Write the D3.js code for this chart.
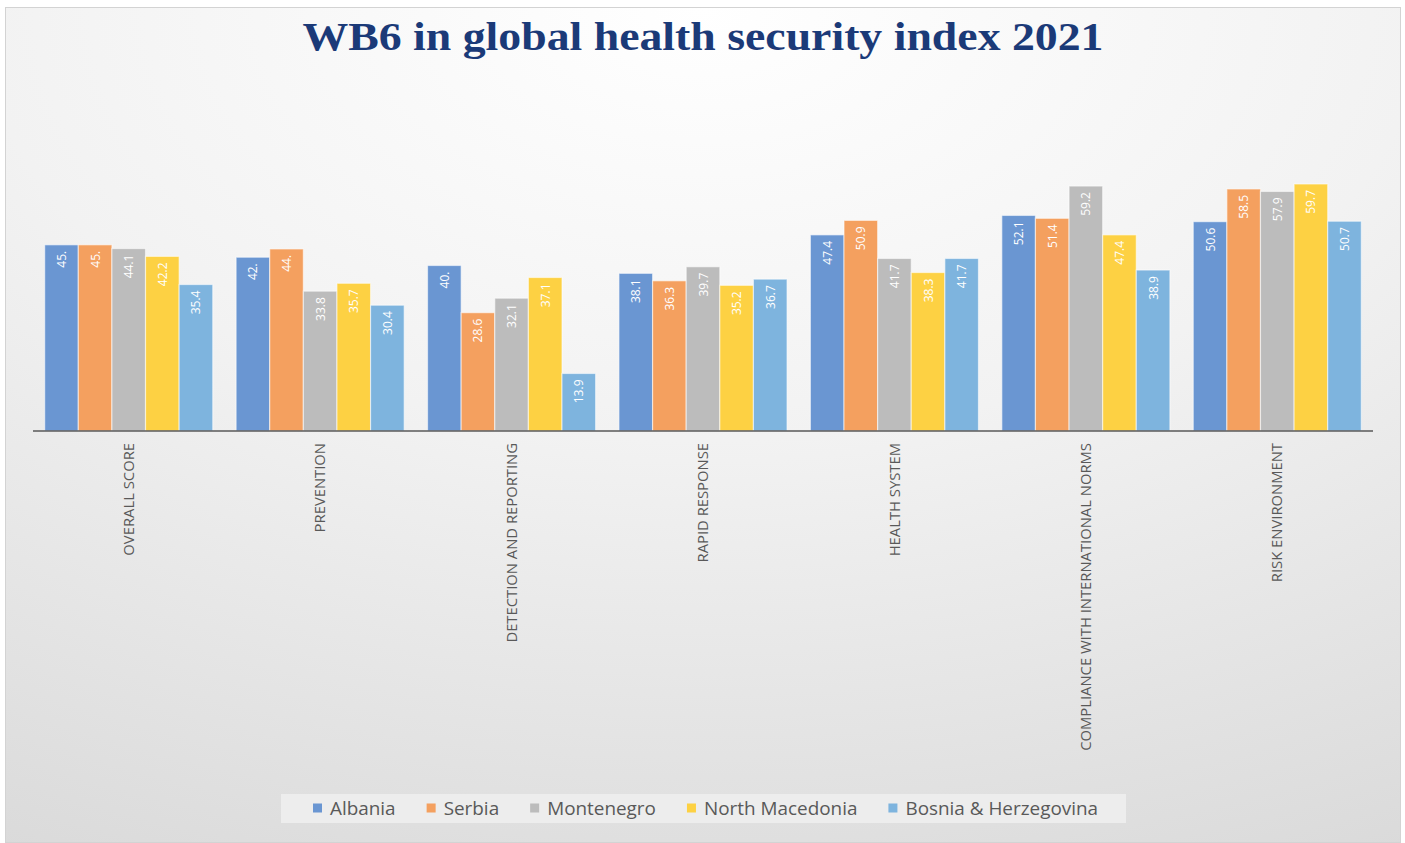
<!DOCTYPE html>
<html>
<head>
<meta charset="utf-8">
<script src="https://cdn.jsdelivr.net/npm/d3@7"></script>
<style>
  html, body { margin: 0; padding: 0; background: #ffffff; }
  svg { display: block; }
</style>
</head>
<body>
<svg id="chart" width="1405" height="843"></svg>
<script>
// GHS index 2021 scores for the Western Balkan six
const categories = [
  "OVERALL SCORE",
  "PREVENTION",
  "DETECTION AND REPORTING",
  "RAPID RESPONSE",
  "HEALTH SYSTEM",
  "COMPLIANCE WITH INTERNATIONAL NORMS",
  "RISK ENVIRONMENT"
];
const seriesNames = ["Albania", "Serbia", "Montenegro", "North Macedonia", "Bosnia & Herzegovina"];
const albania        = [45, 42, 40, 38.1, 47.4, 52.1, 50.6];
const serbia         = [45, 44, 28.6, 36.3, 50.9, 51.4, 58.5];
const montenegro     = [44.1, 33.8, 32.1, 39.7, 41.7, 59.2, 57.9];
const northMacedonia = [42.2, 35.7, 37.1, 35.2, 38.3, 47.4, 59.7];
const bosnia         = [35.4, 30.4, 13.9, 36.7, 41.7, 38.9, 50.7];
const gridValues = [0, 20, 40, 60, 80];
const colors = ["#6a96d2", "#f4a05f", "#bcbcbc", "#fdd143", "#7eb4de"];

const seriesValues = [albania, serbia, montenegro, northMacedonia, bosnia];

const svg = d3.select("#chart");

// background panel with soft gradient
const defs = svg.append("defs");
const grad = defs.append("radialGradient")
  .attr("id", "bg")
  .attr("cx", "50%").attr("cy", "0%").attr("r", "115%")
  .attr("fx", "50%").attr("fy", "0%");
grad.append("stop").attr("offset", "0%").attr("stop-color", "#ffffff");
grad.append("stop").attr("offset", "45%").attr("stop-color", "#f2f2f2");
grad.append("stop").attr("offset", "100%").attr("stop-color", "#d9d9d9");

const soft = defs.append("filter").attr("id", "soft")
  .attr("x", "-5%").attr("y", "-200%").attr("width", "110%").attr("height", "500%");
soft.append("feGaussianBlur").attr("stdDeviation", 0.8);

svg.append("rect")
  .attr("x", 5.5).attr("y", 7.5)
  .attr("width", 1395).attr("height", 835)
  .attr("fill", "url(#bg)")
  .attr("stroke", "#d3d3d3").attr("stroke-width", 1);

// title
svg.append("text")
  .attr("x", 703).attr("y", 50)
  .attr("text-anchor", "middle")
  .attr("font-family", "'Liberation Serif', 'Times New Roman', serif")
  .attr("font-weight", "bold")
  .attr("font-size", 40)
  .attr("fill", "#1b3a78")
  .attr("textLength", 801)
  .attr("lengthAdjust", "spacingAndGlyphs")
  .text("WB6 in global health security index 2021");

// scales
const plot = { left: 33, right: 1373, top: 100, bottom: 431 };
const x0 = d3.scaleBand()
  .domain(categories)
  .range([plot.left, plot.right])
  .paddingInner(0.122)
  .paddingOuter(0.061);
const x1 = d3.scaleBand()
  .domain(seriesNames)
  .range([0, x0.bandwidth()])
  .padding(0);
const y = d3.scaleLinear()
  .domain([0, 80])
  .range([plot.bottom, plot.top]);

// gridlines
svg.append("g")
  .selectAll("line")
  .data(gridValues.filter(v => v > 0))
  .join("line")
  .attr("x1", plot.left).attr("x2", plot.right)
  .attr("y1", d => y(d)).attr("y2", d => y(d))
  .attr("stroke", "#dddddd")
  .attr("stroke-width", 3)
  .attr("filter", "url(#soft)");

// bars
const groups = svg.append("g")
  .selectAll("g")
  .data(categories)
  .join("g")
  .attr("transform", d => `translate(${x0(d)},0)`);

const fmt = v => Number.isInteger(v) ? `${v}.` : d3.format(".1f")(v);

groups.each(function(cat, ci) {
  const g = d3.select(this);
  const rows = seriesNames.map((s, si) => ({ s, si, v: seriesValues[si][ci] }));
  g.selectAll("rect")
    .data(rows)
    .join("rect")
    .attr("x", d => x1(d.s))
    .attr("y", d => y(d.v))
    .attr("width", x1.bandwidth())
    .attr("height", d => y(0) - y(d.v))
    .attr("fill", d => colors[d.si])
    .attr("stroke", "rgba(255,255,255,0.55)")
    .attr("stroke-width", 1.2);
  g.selectAll("text")
    .data(rows)
    .join("text")
    .attr("transform", d => `translate(${x1(d.s) + x1.bandwidth() / 2 + 4.5},${y(d.v) + 6}) rotate(-90)`)
    .attr("text-anchor", "end")
    .attr("font-family", "'Open Sans', 'Liberation Sans', sans-serif")
    .attr("font-size", 12)
    .attr("fill", "#ffffff")
    .text(d => fmt(d.v));
});

// category axis
const xAxis = svg.append("g")
  .attr("transform", `translate(0,${plot.bottom})`)
  .call(d3.axisBottom(x0).tickSize(0).tickPadding(0));
xAxis.select(".domain")
  .attr("d", `M${plot.left},0H${plot.right}`)
  .attr("stroke", "#595959")
  .attr("stroke-width", 1.5);
xAxis.selectAll(".tick text")
  .attr("font-family", "'Open Sans', 'Liberation Sans', sans-serif")
  .attr("font-size", 14.8)
  .attr("fill", "#595959")
  .attr("text-anchor", "end")
  .attr("dy", "0.35em")
  .attr("transform", "translate(0,12) rotate(-90)");

// legend
svg.append("rect")
  .attr("x", 281).attr("y", 794)
  .attr("width", 845).attr("height", 29)
  .attr("fill", "#ededed");
const legend = svg.append("g");
let lx = 313;
seriesNames.forEach((name, i) => {
  legend.append("rect")
    .attr("x", lx).attr("y", 803.5)
    .attr("width", 9).attr("height", 9)
    .attr("fill", colors[i]);
  const t = legend.append("text")
    .attr("x", lx + 17).attr("y", 815)
    .attr("font-family", "'Open Sans', 'Liberation Sans', sans-serif")
    .attr("font-size", 18.9)
    .attr("fill", "#595959")
    .text(name);
  lx += 17 + t.node().getComputedTextLength() + 31;
});
</script>
</body>
</html>
